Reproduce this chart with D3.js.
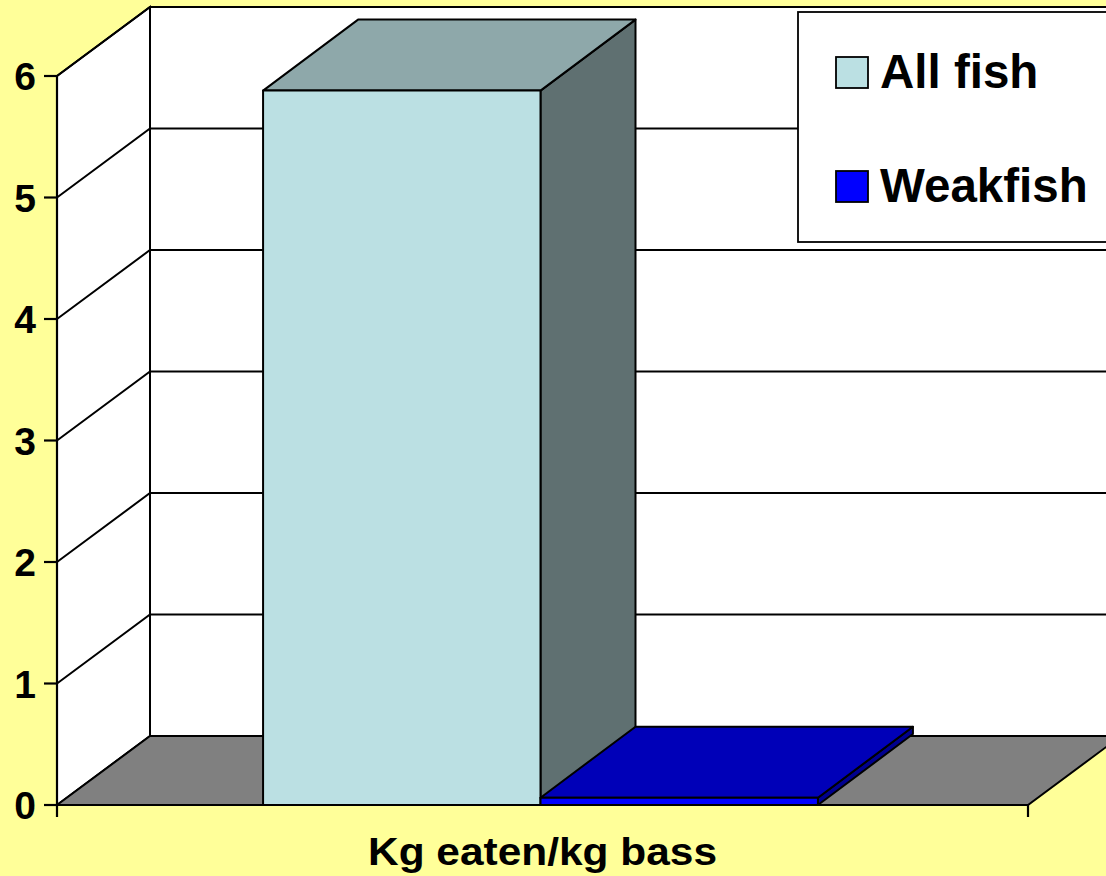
<!DOCTYPE html>
<html>
<head>
<meta charset="utf-8">
<script src="https://cdn.jsdelivr.net/npm/d3@7/dist/d3.min.js"></script>
<style>
html,body{margin:0;padding:0;background:#FFFF99;}
svg{display:block;}
text{font-family:Arial,"Liberation Sans",sans-serif;font-weight:bold;fill:#000;}
</style>
</head>
<body>
<svg id="chart" width="1106" height="876"></svg>
<script>
const categories = ["Kg eaten/kg bass"];
const seriesNames = ["All fish", "Weakfish"];
const seriesValues = [5.88, 0.06];
const yTicks = [0, 1, 2, 3, 4, 5, 6];
const frontColors = ["#BBE0E3", "#0000FF"];
const topColors = ["#8EA8AA", "#0000B8"];
const sideColors = ["#5F7071", "#00008F"];

const svg = d3.select("#chart");
const W = 1106, H = 876;
const x0 = 57, x1 = 1028;
const dx = 93, dy = -69;
const bdx = 95, bdy = -71;

const y = d3.scaleLinear().domain([0, 6]).range([805, 76]);
const xCat = d3.scaleBand().domain(categories).range([x0, x1]).paddingInner(0).paddingOuter(0);
const gapFrac = 0.75 / 3.5; // 150% gap width
const xSer = d3.scaleBand().domain(seriesNames)
  .range([xCat(categories[0]) + xCat.bandwidth() * gapFrac - 2, xCat(categories[0]) + xCat.bandwidth() * (1 - gapFrac) - 2])
  .padding(0);

const line = d3.line();
const sw = 2;

// background
svg.append("rect").attr("width", W).attr("height", H).attr("fill", "#FFFF99");

// back wall
svg.append("path")
  .attr("d", line([[x0 + dx, y(6) + dy], [x1 + dx + 40, y(6) + dy], [x1 + dx + 40, y(0) + dy], [x0 + dx, y(0) + dy], [x0 + dx, y(6) + dy]]))
  .attr("fill", "#fff").attr("stroke", "#000").attr("stroke-width", sw);
// left wall
svg.append("path")
  .attr("d", line([[x0, y(0)], [x0, y(6)], [x0 + dx, y(6) + dy], [x0 + dx, y(0) + dy]]) + "Z")
  .attr("fill", "#fff").attr("stroke", "#000").attr("stroke-width", sw);
// floor
svg.append("path")
  .attr("d", line([[x0, y(0)], [x1, y(0)], [x1 + dx, y(0) + dy], [x0 + dx, y(0) + dy]]) + "Z")
  .attr("fill", "#808080").attr("stroke", "#000").attr("stroke-width", sw);

// gridlines
const grid = svg.append("g").attr("stroke", "#000").attr("stroke-width", sw).attr("fill", "none");
yTicks.filter(t => t > 0).forEach(t => {
  grid.append("path").attr("d", line([[x0, y(t)], [x0 + dx, y(t) + dy], [x1 + dx + 40, y(t) + dy]]));
});

// bars
seriesNames.forEach((s, i) => {
  const v = seriesValues[i];
  const bx = xSer(s), bw = xSer.bandwidth();
  const yt = y(v), yb = y(0);
  const g = svg.append("g").attr("stroke", "#000").attr("stroke-width", sw).attr("stroke-linejoin", "round");
  g.append("path").attr("d", line([[bx + bw, yb], [bx + bw + bdx, yb + bdy], [bx + bw + bdx, yt + bdy], [bx + bw, yt]]) + "Z")
    .attr("fill", sideColors[i]);
  g.append("path").attr("d", line([[bx, yt], [bx + bdx, yt + bdy], [bx + bw + bdx, yt + bdy], [bx + bw, yt]]) + "Z")
    .attr("fill", topColors[i]);
  g.append("path").attr("d", line([[bx, yb], [bx, yt], [bx + bw, yt], [bx + bw, yb]]) + "Z")
    .attr("fill", frontColors[i]);
});

// front axis lines
const ax = svg.append("g").attr("stroke", "#000").attr("stroke-width", 2.2).attr("fill", "none");
ax.append("path").attr("d", line([[x0, y(6)], [x0, y(0) + 12]]));
ax.append("path").attr("d", line([[x0, y(0)], [x1, y(0)]]));
ax.append("path").attr("d", line([[x1, y(0)], [x1, y(0) + 12]]));
yTicks.forEach(t => ax.append("path").attr("d", line([[x0 - 13, y(t)], [x0, y(t)]])));

// y tick labels
svg.append("g").selectAll("text").data(yTicks).join("text")
  .attr("x", 36).attr("y", d => y(d)).attr("dy", "0.36em")
  .attr("text-anchor", "end").attr("font-size", 39).text(d => d);

// x label
svg.append("text").attr("x", xCat(categories[0]) + xCat.bandwidth() / 2).attr("y", 865)
  .attr("text-anchor", "middle").attr("font-size", 39)
  .attr("textLength", 349).attr("lengthAdjust", "spacingAndGlyphs")
  .text(categories[0]);

// legend
const lg = svg.append("g");
lg.append("rect").attr("x", 798).attr("y", 12).attr("width", 400).attr("height", 230)
  .attr("fill", "#fff").attr("stroke", "#000").attr("stroke-width", 1.8);
seriesNames.forEach((s, i) => {
  const yy = 57 + i * 114;
  lg.append("rect").attr("x", 836).attr("y", yy).attr("width", 32).attr("height", 31)
    .attr("fill", frontColors[i]).attr("stroke", "#000").attr("stroke-width", 1.8);
  lg.append("text").attr("x", 880).attr("y", yy + 31).attr("font-size", 47.5).text(s);
});
</script>
</body>
</html>
